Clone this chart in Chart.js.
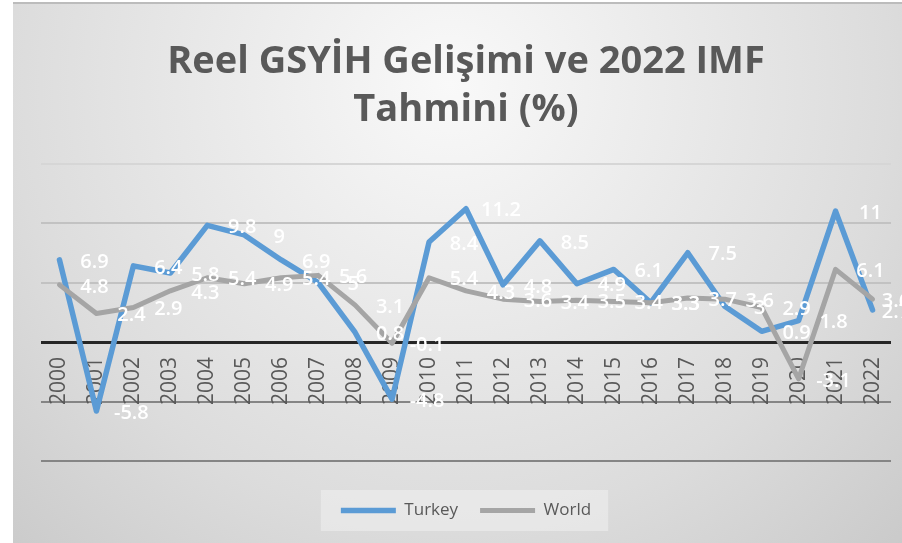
<!DOCTYPE html>
<html>
<head>
<meta charset="utf-8">
<script src="https://cdn.jsdelivr.net/npm/chart.js@4/dist/chart.umd.min.js"></script>
<style>
  html, body { margin: 0; padding: 0; background: #fff; }
  #bg {
    position: absolute; left: 13px; top: 2px; width: 889px; height: 539px;
    border-top: 2px solid #bcbcbc;
    background: radial-gradient(circle at 437px 80px, #f9f9f9 0px, #dcdcdc 440px, #c9c9c9 660px);
  }
  #wrap { position: absolute; left: 0; top: 0; width: 902px; height: 543px; }
</style>
</head>
<body>
<div id="bg"></div>
<div id="wrap"><canvas id="gdpChart"></canvas></div>
<script>
const years = ["2000","2001","2002","2003","2004","2005","2006","2007","2008","2009","2010",
  "2011","2012","2013","2014","2015","2016","2017","2018","2019","2020","2021","2022"];
const turkey = [6.9, -5.8, 6.4, 5.8, 9.8, 9.0, 6.9, 5.0, 0.8, -4.8, 8.4,
  11.2, 4.8, 8.5, 4.9, 6.1, 3.3, 7.5, 3.0, 0.9, 1.8, 11.0, 2.7];
const world = [4.8, 2.4, 2.9, 4.3, 5.4, 4.9, 5.4, 5.6, 3.1, -0.1, 5.4,
  4.3, 3.6, 3.4, 3.5, 3.4, 3.3, 3.7, 3.6, 2.9, -3.1, 6.1, 3.6];
const yTicks = [-10, -5, 0, 5, 10, 15];

const fontFam = "'Open Sans', 'Noto Sans', sans-serif";

// grid colour per level, darker below zero like the original
function gridColor(v) {
  if (v === 0) return "#262626";
  if (v < 0) return "#858585";
  if (v >= 15) return "#d6d6d6";
  return "#c2c2c2";
}

// value labels: Excel put them one category to the right of their point
const valueLabels = {
  id: "valueLabels",
  afterDatasetsDraw(chart) {
    const ctx = chart.ctx;
    const xs = chart.scales.x, ys = chart.scales.y;
    ctx.save();
    ctx.font = "600 20px " + fontFam;
    ctx.fillStyle = "#ffffff";
    ctx.textAlign = "center";
    ctx.textBaseline = "middle";
    chart.data.datasets.forEach(ds => {
      ds.data.forEach((v, i) => {
        let x = xs.getPixelForValue(i + 1) - 2;
        x = Math.min(x, chart.chartArea.right + 5);
        const y = ys.getPixelForValue(v) + 2;
        ctx.fillText(String(v).replace(/\.0$/, ""), x, y);
      });
    });
    ctx.restore();
  }
};

// light box behind the legend
const legendBox = {
  id: "legendBox",
  beforeDraw(chart) {
    const boxes = chart.legend && chart.legend.legendHitBoxes;
    if (!boxes || !boxes.length) return;
    const l = Math.min(...boxes.map(b => b.left)) - 20;
    const r = Math.max(...boxes.map(b => b.left + b.width)) + 17;
    const t = boxes[0].top - 12;
    const h = boxes[0].height + 24;
    const ctx = chart.ctx;
    ctx.save();
    ctx.fillStyle = "rgba(240,240,240,0.55)";
    ctx.fillRect(l, t, r - l, h);
    ctx.restore();
  }
};

new Chart(document.getElementById("gdpChart"), {
  type: "line",
  data: {
    labels: years,
    datasets: [{
      label: "Turkey",
      data: turkey,
      borderColor: "#5B9BD5",
      backgroundColor: "#5B9BD5",
      borderWidth: 5.5,
      pointRadius: 0,
      tension: 0,
      borderCapStyle: "round",
      borderJoinStyle: "round",
      order: 1
    }, {
      label: "World",
      data: world,
      borderColor: "#A5A5A5",
      backgroundColor: "#A5A5A5",
      borderWidth: 5,
      pointRadius: 0,
      tension: 0,
      borderCapStyle: "round",
      borderJoinStyle: "round",
      order: 0
    }]
  },
  options: {
    responsive: true,
    maintainAspectRatio: false,
    animation: false,
    layout: { padding: { left: 41, right: 11, top: 0, bottom: 14 } },
    plugins: {
      title: {
        display: true,
        text: ["Reel GSYİH Gelişimi ve 2022 IMF", "Tahmini (%)"],
        color: "#595959",
        font: { family: fontFam, size: 38, weight: "bold", lineHeight: 1.27 },
        padding: { top: 38, bottom: 29 }
      },
      legend: {
        position: "bottom",
        labels: {
          usePointStyle: true,
          pointStyle: "line",
          pointStyleWidth: 55,
          color: "#595959",
          font: { family: fontFam, size: 17 },
          padding: 22,
          sort: (a, b) => a.datasetIndex - b.datasetIndex
        }
      },
      tooltip: { enabled: false }
    },
    scales: {
      x: {
        position: { y: 0 },
        offset: true,
        grid: { display: false, drawTicks: false },
        border: { display: false },
        afterFit: s => { s.paddingLeft = 0; s.paddingRight = 0; },
        ticks: {
          color: "#595959",
          font: { family: fontFam, size: 21 },
          minRotation: 90,
          maxRotation: 90,
          padding: 15,
          autoSkip: false
        }
      },
      // empty strip between plot and legend
      gap: {
        type: "category",
        position: "bottom",
        labels: years,
        grid: { display: false, drawTicks: false },
        border: { display: false },
        ticks: { display: false },
        afterFit: s => { s.height = 19; s.paddingLeft = 0; s.paddingRight = 0; }
      },
      y: {
        min: -10,
        max: 15,
        afterBuildTicks: axis => { axis.ticks = yTicks.map(v => ({ value: v })); },
        grid: {
          drawTicks: false,
          color: c => gridColor(c.tick.value),
          lineWidth: c => c.tick.value === 0 ? 3 : 2
        },
        border: { display: false },
        ticks: { display: false }
      }
    }
  },
  plugins: [valueLabels, legendBox]
});
</script>
</body>
</html>
